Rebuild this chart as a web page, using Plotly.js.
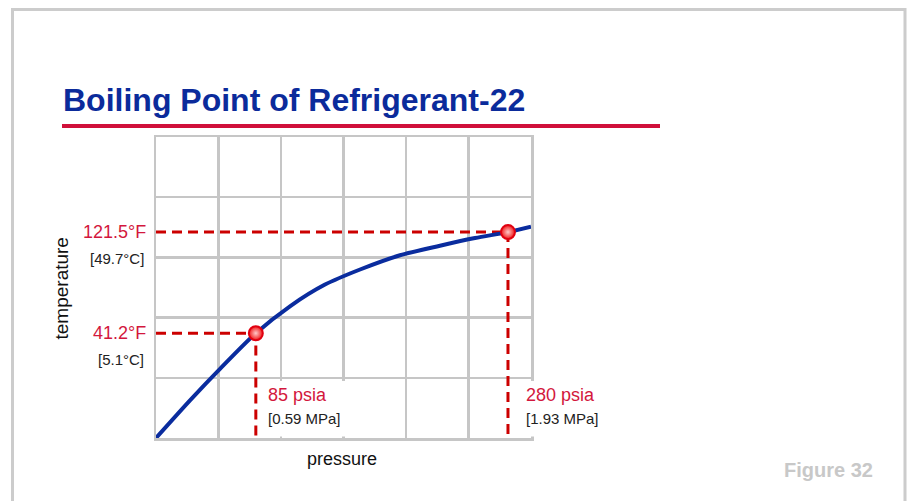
<!DOCTYPE html>
<html>
<head>
<meta charset="utf-8">
<script src="https://cdn.plot.ly/plotly-3.0.1.min.js"></script>
<style>html,body{margin:0;padding:0;background:#fff;}#chart{width:909px;height:501px;}</style>
</head>
<body>
<div id="chart"></div>
<script>
// ---- data ----
const pressurePsia = [7.8, 34.1, 57.3, 85, 111.4, 138.5, 165.6, 196.5, 227.4, 254.5, 280, 297.8];
const temperatureF = [-42.0, -12.1, 12.9, 41.2, 62.6, 79.8, 91.8, 103.1, 110.7, 116.8, 121.5, 125.8];
const pointPsia = [85, 280];
const pointTempF = [41.2, 121.5];
const tempLabelsF = ['41.2°F', '121.5°F'];
const tempLabelsC = ['[5.1°C]', '[49.7°C]'];
const pressLabels = ['85 psia', '280 psia'];
const pressLabelsMPa = ['[0.59 MPa]', '[1.93 MPa]'];
const titleText = 'Boiling Point of Refrigerant-22';
const xTitle = 'pressure';
const yTitle = 'temperature';
const figureText = 'Figure 32';

// ---- layout helpers ----
const W = 909, H = 501;
const L = 156, R = 531, T = 137, B = 438;
const xRange = [7.8, 297.8];
const yRange = [-42, 197];
const px = p => (p - L) / (R - L);
const py = p => (B - p) / (B - T);

const sans = '"Liberation Sans", Arial, Helvetica, sans-serif';
const red = '#d3173d';
const gridCol = '#c6c6c6';

const traces = [];
// dashed guide lines
for (let i = 0; i < pointPsia.length; i++) {
  traces.push({
    x: [xRange[0], pointPsia[i], pointPsia[i]],
    y: [pointTempF[i], pointTempF[i], yRange[0]],
    mode: 'lines', type: 'scatter', hoverinfo: 'skip', showlegend: false,
    line: {color: '#cc0000', width: 3, dash: '10px,6px'}
  });
}
// curve
traces.push({
  x: pressurePsia, y: temperatureF, mode: 'lines', type: 'scatter', showlegend: false,
  line: {color: '#0a2c9e', width: 4, shape: 'spline', smoothing: 0.8}
});
// points
traces.push({
  x: pointPsia, y: pointTempF, mode: 'markers', type: 'scatter', showlegend: false,
  marker: {size: 14, color: '#f01818', line: {color: '#e00010', width: 2},
           gradient: {type: 'radial', color: '#ffc8c8'}}
});

const annotations = [];
for (let i = 0; i < pointPsia.length; i++) {
  annotations.push({xref: 'paper', yref: 'y', x: px(148), y: pointTempF[i], xanchor: 'right', yanchor: 'middle',
    text: tempLabelsF[i], showarrow: false, font: {family: sans, size: 18, color: red}});
  annotations.push({xref: 'paper', yref: 'y', x: px(146), y: pointTempF[i], yshift: -26, xanchor: 'right', yanchor: 'middle',
    text: tempLabelsC[i], showarrow: false, font: {family: sans, size: 15, color: '#222'}});
  annotations.push({xref: 'x', yref: 'paper', x: pointPsia[i], xshift: i === 0 ? 10 : 16, y: py(395), xanchor: 'left', yanchor: 'middle',
    text: pressLabels[i], showarrow: false, font: {family: sans, size: 18, color: red}});
  annotations.push({xref: 'x', yref: 'paper', x: pointPsia[i], xshift: i === 0 ? 10 : 16, y: py(418), xanchor: 'left', yanchor: 'middle',
    text: pressLabelsMPa[i], showarrow: false, font: {family: sans, size: 15, color: '#222'}});
}
annotations.push({xref: 'paper', yref: 'paper', x: px(342), y: py(459), xanchor: 'center', yanchor: 'middle',
  text: xTitle, showarrow: false, font: {family: sans, size: 18, color: '#111'}});
annotations.push({xref: 'paper', yref: 'paper', x: px(60.5), y: py(289), xanchor: 'center', yanchor: 'middle', textangle: -90,
  text: yTitle, showarrow: false, font: {family: sans, size: 19, color: '#111'}});
annotations.push({xref: 'paper', yref: 'paper', x: px(875), y: py(469.5), xanchor: 'right', yanchor: 'middle',
  text: figureText, showarrow: false, font: {family: sans, size: 20, color: '#c8c8c8', weight: 'bold'}});

const shapes = [
  // outer frame
  {type: 'path', xref: 'paper', yref: 'paper', layer: 'below',
   path: `M ${px(12.5)} ${py(520)} L ${px(12.5)} ${py(9.5)} L ${px(905)} ${py(9.5)} L ${px(905)} ${py(520)}`,
   line: {color: '#cccccc', width: 3}},
  // red underline below title
  {type: 'line', xref: 'paper', yref: 'paper', x0: px(62), x1: px(660), y0: py(126), y1: py(126),
   line: {color: '#d0103a', width: 4}},
  // white label boxes
  {type: 'rect', xref: 'paper', yref: 'paper', layer: 'above', x0: px(262), x1: px(346), y0: py(436.5), y1: py(381),
   fillcolor: '#ffffff', line: {width: 0}},
  {type: 'rect', xref: 'paper', yref: 'paper', layer: 'above', x0: px(521), x1: px(602), y0: py(436.5), y1: py(381),
   fillcolor: '#ffffff', line: {width: 0}}
];

const axisCommon = {showticklabels: false, ticks: '', zeroline: false, showgrid: true,
  gridcolor: gridCol, gridwidth: 2.5, showline: true, mirror: true, linecolor: gridCol, linewidth: 2.5, fixedrange: true};

const layout = {
  width: W, height: H, autosize: false,
  margin: {l: L, r: W - R, t: T, b: H - B, pad: 0},
  paper_bgcolor: '#ffffff', plot_bgcolor: '#ffffff',
  showlegend: false,
  title: {text: titleText, xref: 'container', yref: 'container', x: 63 / W, xanchor: 'left',
          y: 1 - 100 / H, yanchor: 'middle',
          font: {family: sans, size: 32, color: '#0b2b9b', weight: 'bold'}},
  xaxis: Object.assign({}, axisCommon, {range: xRange, tick0: xRange[0], dtick: 48.33}),
  yaxis: Object.assign({}, axisCommon, {range: yRange, tick0: yRange[0], dtick: 47.8}),
  annotations: annotations,
  shapes: shapes
};

Plotly.newPlot('chart', traces, layout, {displayModeBar: false, staticPlot: true});
</script>
</body>
</html>
